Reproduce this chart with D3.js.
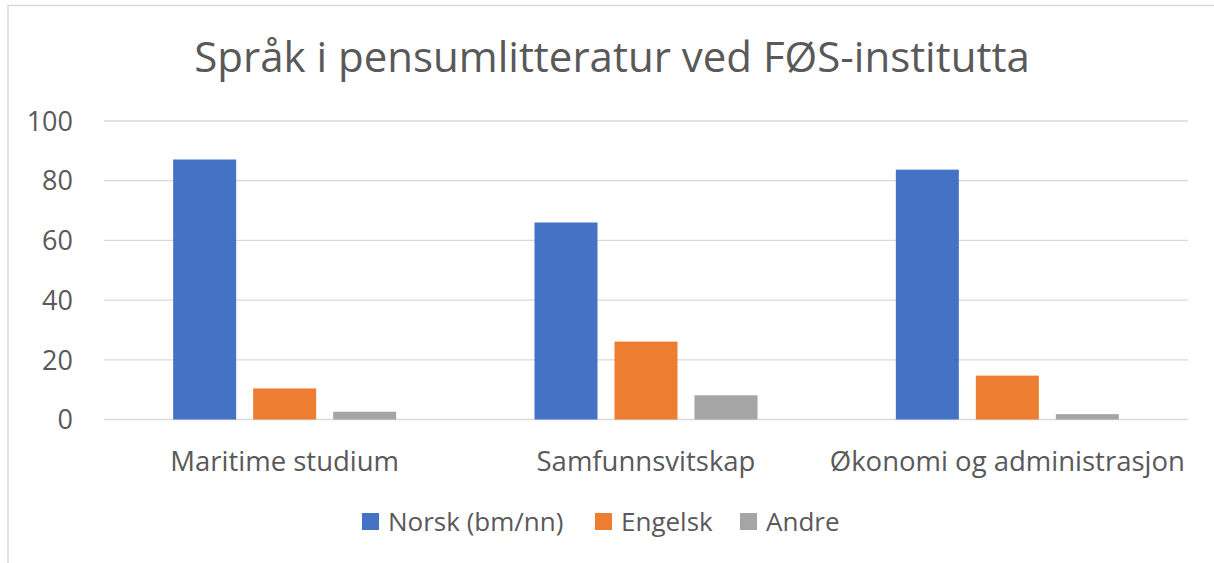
<html>
<head>
<style>
  body { margin: 0; background: #fff; }
  text { font-family: "Open Sans", sans-serif; fill: #595959; }
</style>
</head>
<body>
  <svg id="svg" width=1214 height=563></svg>

  <script src="https://cdn.jsdelivr.net/npm/d3@7"></script>
  <script type="text/javascript">
  const title = "Språk i pensumlitteratur ved FØS-institutta";
  const categories = ["Maritime studium", "Samfunnsvitskap", "Økonomi og administrasjon"];
  const seriesNames = ["Norsk (bm/nn)", "Engelsk", "Andre"];
  const seriesColors = ["#4472C4", "#ED7D31", "#A5A5A5"];
  const norsk = [87.1, 66.0, 83.7];
  const engelsk = [10.4, 26.1, 14.7];
  const andre = [2.6, 8.1, 1.8];
  const yTicks = [0, 20, 40, 60, 80, 100];

  const values = [norsk, engelsk, andre];
  const svg = d3.select("#svg");

  // chart frame (only top and left edges show)
  svg.append("path")
    .attr("d", "M8,563 V5.5 H1214")
    .attr("fill", "none")
    .attr("stroke", "#d9d9d9")
    .attr("stroke-width", 1.5);

  const pLeft = 104, pRight = 1188, pTop = 121, pBottom = 419.5;

  const x = d3.scaleBand().domain(categories).range([pLeft, pRight]);
  const xs = d3.scaleBand().domain(d3.range(3)).range([-111.5, 111.5]).paddingInner(0.2125).paddingOuter(0);
  const y = d3.scaleLinear().domain([0, 100]).range([pBottom, pTop]);

  // gridlines
  svg.append("g").selectAll("line").data(yTicks).enter().append("line")
    .attr("x1", pLeft).attr("x2", pRight)
    .attr("y1", d => y(d)).attr("y2", d => y(d))
    .attr("stroke", "#d9d9d9").attr("stroke-width", 1.3);

  // y labels
  svg.append("g").selectAll("text").data(yTicks).enter().append("text")
    .attr("x", 73).attr("y", d => y(d))
    .attr("dy", "0.36em")
    .attr("text-anchor", "end")
    .attr("font-size", 27)
    .text(d => d);

  // bars
  const groups = svg.append("g").selectAll("g").data(values).enter().append("g")
    .attr("fill", (d, i) => seriesColors[i]);
  groups.each(function (vals, si) {
    d3.select(this).selectAll("rect").data(vals).enter().append("rect")
      .attr("x", (d, ci) => x(categories[ci]) + x.bandwidth() / 2 + xs(si))
      .attr("width", xs.bandwidth())
      .attr("y", d => y(d))
      .attr("height", d => y(0) - y(d));
  });

  // category labels
  svg.append("g").selectAll("text").data(categories).enter().append("text")
    .attr("x", d => x(d) + x.bandwidth() / 2)
    .attr("y", 471)
    .attr("text-anchor", "middle")
    .attr("font-size", 27.5)
    .text(d => d);

  // title
  svg.append("text")
    .attr("x", 612).attr("y", 72)
    .attr("text-anchor", "middle")
    .attr("font-size", 42)
    .text(title);

  // legend
  const legendX = [362, 595, 740];
  const lg = svg.append("g").selectAll("g").data(seriesNames).enter().append("g")
    .attr("transform", (d, i) => "translate(" + legendX[i] + ",513)");
  lg.append("rect").attr("width", 17).attr("height", 17)
    .attr("fill", (d, i) => seriesColors[i]);
  lg.append("text").attr("x", 26).attr("y", 18)
    .attr("font-size", 26)
    .text(d => d);
  </script>
</body>
</html>
